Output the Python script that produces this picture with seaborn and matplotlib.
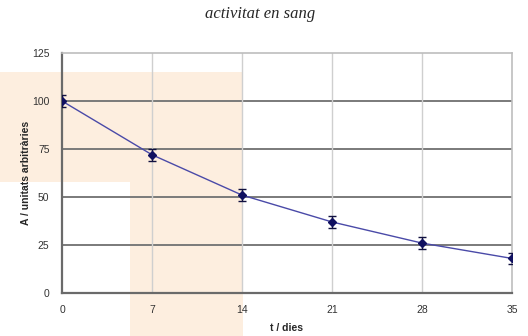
import matplotlib
matplotlib.use("Agg")
import matplotlib.pyplot as plt
import seaborn as sns
import pandas as pd
from matplotlib.patches import Polygon

# dades llegides del gràfic
t_dies = [0, 7, 14, 21, 28, 35]
activitat = [100, 72, 51, 37, 26, 18]
error = [3, 3, 3, 3, 3, 3]
x_ticks = [0, 7, 14, 21, 28, 35]
y_ticks = [0, 25, 50, 75, 100, 125]

df = pd.DataFrame({"t": t_dies, "A": activitat, "err": error})

sns.set_theme(style="white")
plt.rcParams['font.family'] = ['Liberation Sans', 'DejaVu Sans']

W, H = 528, 336
fig = plt.figure(figsize=(W / 100, H / 100), dpi=100)
fig.patch.set_facecolor("white")

# fons taronja clar (forma en L) darrere del gràfic
def px(x, y):
    return (x / W, 1 - y / H)

shape = Polygon([px(0, 72), px(243, 72), px(243, 336), px(130, 336), px(130, 182), px(0, 182)],
                closed=True, transform=fig.transFigure, facecolor="#fdeedf",
                edgecolor="none", zorder=-5)
fig.patches.append(shape)

ax = fig.add_axes([62 / W, 1 - 293 / H, (512 - 62) / W, (293 - 53) / H])
ax.set_facecolor("none")
ax.set_zorder(2)

sns.lineplot(data=df, x="t", y="A", ax=ax, color="#4a4aa8", linewidth=1.0, zorder=3)
ax.errorbar(df["t"], df["A"], yerr=df["err"], fmt="D", color="#101060", markersize=4,
            ecolor="#101040", elinewidth=1.0, capsize=3, capthick=1.0, zorder=4)

ax.set_xlim(0, 35)
ax.set_ylim(0, 125)
ax.set_xticks(x_ticks)
ax.set_yticks(y_ticks)

for v in y_ticks[1:-1]:
    ax.axhline(v, color="#7a7a7a", linewidth=1.4, zorder=1)
for v in x_ticks[1:-1]:
    ax.axvline(v, color="#cfcfcf", linewidth=1.0, zorder=1)

for side in ["top", "right"]:
    ax.spines[side].set_color("#bdbdbd")
    ax.spines[side].set_linewidth(1.2)
for side in ["left", "bottom"]:
    ax.spines[side].set_color("#6a6a6a")
    ax.spines[side].set_linewidth(1.6)

ax.tick_params(axis="both", labelsize=7.5, colors="#333333", length=3, width=1,
               direction="out", pad=6)
ax.tick_params(axis="x", direction="inout", length=5)

ax.set_xlabel("t / dies", fontsize=7.5, fontweight="bold", labelpad=6)
ax.set_ylabel("A / unitats arbitràries", fontsize=7.5, fontweight="bold", labelpad=1)

fig.text(260 / W, 1 - 14 / H, "activitat en sang", ha="center", va="center",
         fontsize=12, style="italic", family=["Liberation Serif", "DejaVu Serif"])

fig.savefig("out.png", dpi=100)
plt.close(fig)
